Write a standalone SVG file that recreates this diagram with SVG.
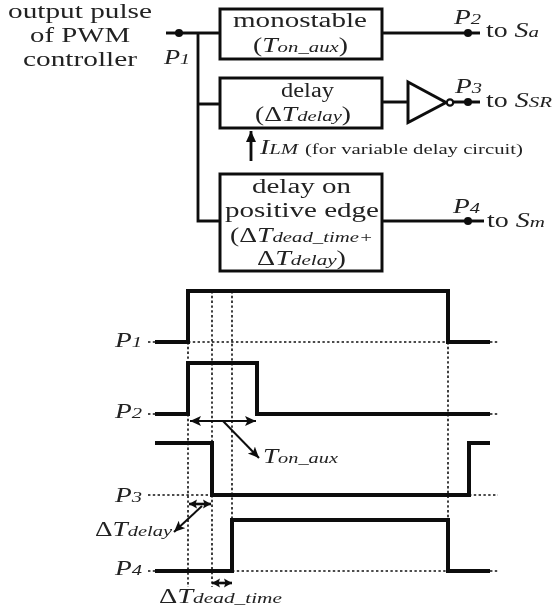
<svg xmlns="http://www.w3.org/2000/svg" width="554" height="612" viewBox="0 0 554 612">
<defs>
<style>
svg > g{filter:url(#soft)}
text{font-family:"Liberation Serif","Times New Roman",serif;font-size:20px;fill:#222}
.i{font-style:italic}
.s{font-size:15px;font-style:italic}
.box{fill:#fff;stroke:#111;stroke-width:3}
.w{fill:none;stroke:#111;stroke-width:2.800}
.sig{fill:none;stroke:#111;stroke-width:4;stroke-linejoin:miter}
.d{fill:none;stroke:#111;stroke-width:1.600;stroke-dasharray:2.400 2.400}
.a{fill:none;stroke:#111;stroke-width:2;marker-start:url(#as);marker-end:url(#ae)}
.b{fill:none;stroke:#111;stroke-width:2;marker-end:url(#ae)}
.n{fill:none;stroke:#111;stroke-width:2.600;marker-start:url(#ss);marker-end:url(#se)}
</style>
<filter id="soft" x="-5%" y="-5%" width="110%" height="110%"><feGaussianBlur stdDeviation="0.35"/></filter>
<marker id="ae" markerUnits="userSpaceOnUse" markerWidth="13" markerHeight="12" refX="11" refY="5" orient="auto"><path d="M0,0L11,5L0,10L2.500,5Z" fill="#111"/></marker>
<marker id="as" markerUnits="userSpaceOnUse" markerWidth="13" markerHeight="12" refX="0" refY="5" orient="auto"><path d="M11,0L0,5L11,10L8.500,5Z" fill="#111"/></marker>
<marker id="se" markerUnits="userSpaceOnUse" markerWidth="10" markerHeight="12" refX="8" refY="5" orient="auto"><path d="M0,0.500L8,5L0,9.500L1.500,5Z" fill="#111"/></marker>
<marker id="ss" markerUnits="userSpaceOnUse" markerWidth="10" markerHeight="12" refX="0" refY="5" orient="auto"><path d="M8,0.500L0,5L8,9.500L6.500,5Z" fill="#111"/></marker>
<marker id="au" markerUnits="userSpaceOnUse" markerWidth="13" markerHeight="12" refX="11" refY="5" orient="auto"><path d="M0,0L11,5L0,10Z" fill="#111"/></marker>
</defs>
<g id="connectors">
<path class="w" d="M166,33H220M198,33V221H220M198,104H220M382,33H480M382,102H408M453,102H480M382,221H484"/>
<path class="w" d="M251,161V131" marker-end="url(#au)"/>
<circle cx="179" cy="33" r="4" fill="#111"/>
<circle cx="468" cy="33" r="4" fill="#111"/>
<circle cx="468" cy="102" r="4" fill="#111"/>
<circle cx="468" cy="221" r="4" fill="#111"/>
</g>
<g id="input-label">
<text x="8" y="18" textLength="144" lengthAdjust="spacingAndGlyphs">output pulse</text>
<text x="30" y="42" textLength="100" lengthAdjust="spacingAndGlyphs">of PWM</text>
<text x="23" y="66" textLength="114" lengthAdjust="spacingAndGlyphs">controller</text>
<text x="164" y="64" textLength="26" lengthAdjust="spacingAndGlyphs" class="i">P<tspan class="s">1</tspan></text>
</g>
<g id="monostable">
<rect class="box" x="220" y="9" width="162" height="50"/>
<text x="233" y="27" textLength="134" lengthAdjust="spacingAndGlyphs">monostable</text>
<text x="253" y="52" textLength="95" lengthAdjust="spacingAndGlyphs">(<tspan class="i">T</tspan><tspan class="s">on_aux</tspan>)</text>
</g>
<g id="delay">
<rect class="box" x="220" y="78" width="162" height="50"/>
<text x="281" y="97" textLength="53" lengthAdjust="spacingAndGlyphs">delay</text>
<text x="255" y="121" textLength="96" lengthAdjust="spacingAndGlyphs">(Δ<tspan class="i">T</tspan><tspan class="s">delay</tspan>)</text>
</g>
<g id="delay-positive-edge">
<rect class="box" x="220" y="174" width="162" height="97"/>
<text x="252" y="193" textLength="99" lengthAdjust="spacingAndGlyphs">delay on</text>
<text x="225" y="217" textLength="154" lengthAdjust="spacingAndGlyphs">positive edge</text>
<text x="230" y="242" textLength="143" lengthAdjust="spacingAndGlyphs">(Δ<tspan class="i">T</tspan><tspan class="s">dead_time+</tspan></text>
<text x="257" y="265" textLength="89" lengthAdjust="spacingAndGlyphs">Δ<tspan class="i">T</tspan><tspan class="s">delay</tspan>)</text>
</g>
<g id="inverter">
<path d="M408,82L446,102.500L408,122.500Z" fill="#fff" stroke="#111" stroke-width="3"/>
<circle cx="450" cy="102.500" r="3.200" fill="#fff" stroke="#111" stroke-width="2.200"/>
</g>
<g id="outputs">
<text x="454" y="24" textLength="27" lengthAdjust="spacingAndGlyphs" class="i">P<tspan class="s">2</tspan></text>
<text x="486" y="37" textLength="53" lengthAdjust="spacingAndGlyphs">to <tspan class="i">S</tspan><tspan class="s">a</tspan></text>
<text x="455" y="93" textLength="27" lengthAdjust="spacingAndGlyphs" class="i">P<tspan class="s">3</tspan></text>
<text x="486" y="107" textLength="66" lengthAdjust="spacingAndGlyphs">to <tspan class="i">S</tspan><tspan class="s">SR</tspan></text>
<text x="453" y="213" textLength="27" lengthAdjust="spacingAndGlyphs" class="i">P<tspan class="s">4</tspan></text>
<text x="487" y="227" textLength="58" lengthAdjust="spacingAndGlyphs">to <tspan class="i">S</tspan><tspan class="s">m</tspan></text>
<text x="260" y="154" textLength="263" lengthAdjust="spacingAndGlyphs"><tspan class="i">I</tspan><tspan class="s">LM</tspan> <tspan style="font-size:15px">(for variable delay circuit)</tspan></text>
</g>
<g id="timing-guides">
<path class="d" d="M148,342H188M188,342H448M490,342H498M148,414H155M490,414H498M148,495H212M469,495H498M148,571H155M232,571H448M490,571H498"/>
<path class="d" d="M188,342V587M212,291V443M212,495V587M232,291V520M448,342V520"/>
</g>
<g id="timing-signals">
<path class="sig" d="M155,342H188V291H448V342H490"/>
<path class="sig" d="M155,414H188V363H257V414H490"/>
<path class="sig" d="M155,443H212V495H469V443H490"/>
<path class="sig" d="M155,571H232V520H448V571H490"/>
</g>
<g id="timing-arrows">
<path class="a" d="M190,421H256"/>
<path class="b" d="M223,421L259,458"/>
<path class="n" d="M189,504H211"/>
<path class="b" d="M202,506L174,532"/>
<path class="n" d="M212,583H232"/>
</g>
<g id="timing-labels">
<text x="115" y="347" textLength="27" lengthAdjust="spacingAndGlyphs" class="i">P<tspan class="s">1</tspan></text>
<text x="115" y="418" textLength="27" lengthAdjust="spacingAndGlyphs" class="i">P<tspan class="s">2</tspan></text>
<text x="115" y="502" textLength="27" lengthAdjust="spacingAndGlyphs" class="i">P<tspan class="s">3</tspan></text>
<text x="115" y="575" textLength="27" lengthAdjust="spacingAndGlyphs" class="i">P<tspan class="s">4</tspan></text>
<text x="263" y="463" textLength="75" lengthAdjust="spacingAndGlyphs" class="i">T<tspan class="s">on_aux</tspan></text>
<text x="95" y="536" textLength="77" lengthAdjust="spacingAndGlyphs">Δ<tspan class="i">T</tspan><tspan class="s">delay</tspan></text>
<text x="159" y="603" textLength="123" lengthAdjust="spacingAndGlyphs">Δ<tspan class="i">T</tspan><tspan class="s">dead_time</tspan></text>
</g>
</svg>
